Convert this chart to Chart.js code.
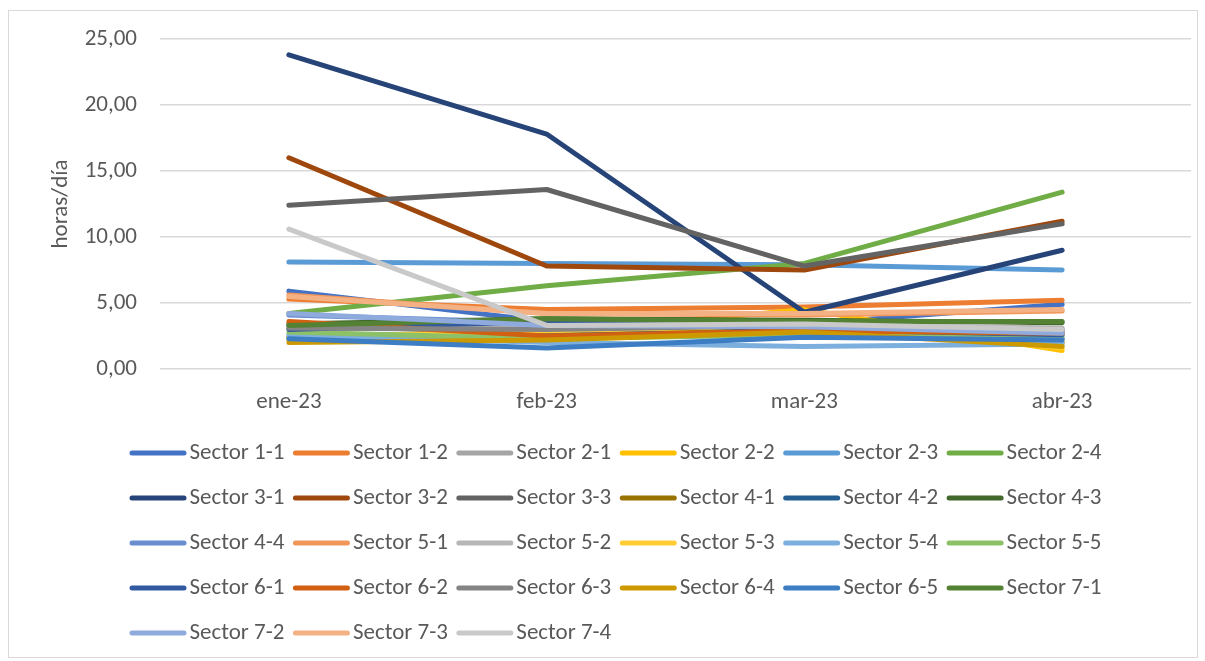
<!DOCTYPE html>
<html lang="es">
<head>
<meta charset="utf-8">
<title>horas/día por sector</title>
<script src="https://cdn.jsdelivr.net/npm/chart.js@4.4.1/dist/chart.umd.min.js"></script>
<style>
    html, body { margin: 0; padding: 0; background: #fff; }
    #wrap { position: relative; width: 1205px; height: 661px; }
    #frame {
        position: absolute; left: 8px; top: 10px; width: 1188px; height: 646px;
        border: 1px solid #d9d9d9; pointer-events: none;
    }
</style>
</head>
<body>
<div id="wrap">
    <canvas id="lineChart" width="1205" height="661"></canvas>
    <div id="frame"></div>
</div>
<script>
"use strict";

// meses (eje x)
const months = ['ene-23', 'feb-23', 'mar-23', 'abr-23'];

// nombres de las series
const sectors = [
    'Sector 1-1', 'Sector 1-2', 'Sector 2-1', 'Sector 2-2', 'Sector 2-3', 'Sector 2-4',
    'Sector 3-1', 'Sector 3-2', 'Sector 3-3', 'Sector 4-1', 'Sector 4-2', 'Sector 4-3',
    'Sector 4-4', 'Sector 5-1', 'Sector 5-2', 'Sector 5-3', 'Sector 5-4', 'Sector 5-5',
    'Sector 6-1', 'Sector 6-2', 'Sector 6-3', 'Sector 6-4', 'Sector 6-5', 'Sector 7-1',
    'Sector 7-2', 'Sector 7-3', 'Sector 7-4'
];

// horas/día por sector
const s1_1 = [5.9, 3.6, 3.4, 4.9];
const s1_2 = [5.3, 4.5, 4.7, 5.2];
const s2_1 = [3.1, 3.0, 3.2, 2.9];
const s2_2 = [2.2, 2.7, 4.5, 1.4];
const s2_3 = [8.1, 8.0, 7.9, 7.5];
const s2_4 = [4.2, 6.3, 8.0, 13.4];
const s3_1 = [23.8, 17.8, 4.3, 9.0];
const s3_2 = [16.0, 7.8, 7.5, 11.2];
const s3_3 = [12.4, 13.6, 7.8, 11.0];
const s4_1 = [3.3, 2.8, 3.0, 2.0];
const s4_2 = [2.4, 2.9, 2.5, 2.3];
const s4_3 = [3.4, 3.8, 3.7, 3.5];
const s4_4 = [4.1, 3.5, 3.3, 2.8];
const s5_1 = [5.6, 4.2, 4.1, 4.4];
const s5_2 = [3.3, 3.2, 3.4, 3.1];
const s5_3 = [2.4, 2.9, 3.3, 1.6];
const s5_4 = [2.6, 2.0, 1.7, 1.9];
const s5_5 = [2.8, 2.3, 2.6, 2.5];
const s6_1 = [3.0, 3.6, 3.0, 2.6];
const s6_2 = [3.6, 2.5, 2.9, 2.7];
const s6_3 = [3.1, 3.0, 3.3, 3.0];
const s6_4 = [2.0, 2.2, 2.8, 1.7];
const s6_5 = [2.3, 1.6, 2.4, 2.2];
const s7_1 = [3.3, 3.8, 3.6, 3.6];
const s7_2 = [4.2, 3.3, 3.2, 2.7];
const s7_3 = [5.5, 4.2, 4.2, 4.5];
const s7_4 = [10.6, 3.3, 3.4, 3.0];

const seriesValues = [
    s1_1, s1_2, s2_1, s2_2, s2_3, s2_4, s3_1, s3_2, s3_3, s4_1, s4_2, s4_3, s4_4, s5_1,
    s5_2, s5_3, s5_4, s5_5, s6_1, s6_2, s6_3, s6_4, s6_5, s7_1, s7_2, s7_3, s7_4
];

// marcas del eje y
const yTicks = [0, 5, 10, 15, 20, 25];

// colores tipo Office
const lineColors = [
    '#4472c4', '#ed7d31', '#a5a5a5', '#ffc000', '#5b9bd5', '#70ad47',
    '#264478', '#9e480e', '#636363', '#997300', '#255e91', '#43682b',
    '#698ed0', '#f1975a', '#b7b7b7', '#ffcd33', '#7cafdd', '#8cc168',
    '#335aa1', '#d26012', '#848484', '#cc9a00', '#3c7dc4', '#548235',
    '#8faadc', '#f4b183', '#c9c9c9'
];

const textColor = '#595959';
const fontFamily = 'Calibri, Carlito, "Liberation Sans", sans-serif';

/**
 * Plugin: flytta legenden och rita linjeprover i den
 */
const legendLines = {
    id: 'legendLines',
    afterLayout(chart) {
        chart.legend.left = 121;
    },
    afterDraw(chart) {
        const legend = chart.legend;
        const ctx = chart.ctx;
        legend.legendHitBoxes.forEach((box, i) => {
            const item = legend.legendItems[i];
            const ds = chart.data.datasets[item.datasetIndex];
            const y = box.top + box.height / 2;
            ctx.save();
            ctx.strokeStyle = ds.borderColor;
            ctx.lineWidth = 5;
            ctx.lineCap = 'round';
            ctx.beginPath();
            ctx.moveTo(box.left + 2, y);
            ctx.lineTo(box.left + 54, y);
            ctx.stroke();
            ctx.restore();
        });
    }
};

function createLineChart() {
    const ctx = document.getElementById('lineChart').getContext('2d');
    Chart.defaults.font.family = fontFamily;
    Chart.defaults.font.size = 23;
    Chart.defaults.color = textColor;

    new Chart(ctx, {
        type: 'line',
        data: {
            labels: months,
            datasets: sectors.map((name, i) => ({
                label: name,
                data: seriesValues[i],
                borderColor: lineColors[i],
                backgroundColor: lineColors[i],
                borderWidth: 5,
                borderCapStyle: 'round',
                borderJoinStyle: 'round',
                pointRadius: 0,
                pointHoverRadius: 0,
                tension: 0,
                order: sectors.length - i
            }))
        },
        options: {
            responsive: false,
            animation: false,
            layout: {
                padding: { left: 44, right: 14, top: 39, bottom: 0 }
            },
            scales: {
                x: {
                    offset: true,
                    grid: { display: false, drawTicks: false },
                    border: { display: false },
                    ticks: { padding: 19, color: textColor },
                    afterFit(scale) { scale.height = 57; }
                },
                y: {
                    min: 0,
                    max: 25,
                    afterBuildTicks(scale) {
                        scale.ticks = yTicks.map(v => ({ value: v }));
                    },
                    ticks: {
                        padding: 23,
                        color: textColor,
                        callback: value => value.toFixed(2).replace('.', ',')
                    },
                    grid: { color: '#d9d9d9', lineWidth: 1.5, drawTicks: false },
                    border: { display: false },
                    title: {
                        display: true,
                        text: 'horas/día',
                        color: textColor,
                        font: { size: 23 },
                        padding: { top: 3, bottom: 4 }
                    },
                    afterFit(scale) { scale.width = 116; }
                }
            },
            plugins: {
                tooltip: { enabled: false },
                legend: {
                    position: 'bottom',
                    align: 'start',
                    fullSize: false,
                    labels: {
                        boxWidth: 48,
                        boxHeight: 36,
                        padding: 9,
                        color: textColor,
                        sort: (a, b) => a.datasetIndex - b.datasetIndex,
                        generateLabels(chart) {
                            return chart.data.datasets.map((ds, i) => ({
                                text: ds.label,
                                datasetIndex: i,
                                fillStyle: 'rgba(0,0,0,0)',
                                strokeStyle: 'rgba(0,0,0,0)',
                                lineWidth: 0,
                                fontColor: textColor,
                                hidden: false
                            }));
                        }
                    }
                }
            }
        },
        plugins: [legendLines]
    });
}

window.onload = () => {
    createLineChart();
};
</script>
</body>
</html>
